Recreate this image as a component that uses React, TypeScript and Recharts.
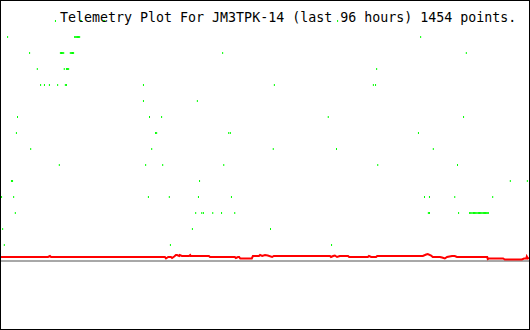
import React from "react";
import { ComposedChart, XAxis, YAxis, Line, Scatter, ReferenceLine } from "recharts";

// Title
const titleText = "Telemetry Plot For JM3TPK-14 (last 96 hours) 1454 points.";

// Red analog channel: hours ago axis (0..96) and raw value (0..255)
const redHours = [
  0, 8.55, 8.9, 9.1, 29.8, 30.0, 30.4, 30.9, 31.1, 31.5, 31.8, 32.0, 32.4, 32.5, 32.9,
  34.2, 34.4, 34.5, 37.8, 38.0, 42.5, 42.7, 43.1, 43.3, 43.5, 45.6, 45.8, 46.9, 47.1,
  47.5, 48.0, 48.5, 49.3, 49.6, 59.8, 60.0, 60.4, 60.7, 61.1, 61.6, 63.1, 63.3, 66.7,
  66.9, 67.3, 68.2, 68.4, 76.7, 77.3, 77.6, 78.2, 78.5, 79.8, 80.2, 80.7, 81.1, 82.0,
  82.5, 82.9, 88.4, 88.5, 88.7, 91.3, 91.6, 94.7, 95.1, 95.5, 95.6, 95.8, 96.0,
];
const redValues = [
  4, 4, 5, 4, 4, 2.5, 4, 4, 3, 4.5, 6, 6, 5, 6, 5,
  5, 6, 5, 5, 4, 4, 3, 4, 4, 2.5, 2.5, 5, 5, 6,
  5, 6, 5.5, 4, 5, 5, 4, 5, 5.5, 4, 5, 5, 4, 4,
  5, 4, 4, 5, 5, 6.5, 7, 5.5, 4, 4, 3.5, 2.5, 4, 5,
  5, 4, 4, 2, 2.5, 2.5, 1.5, 1.5, 2.5, 2.5, 4.5, 2.5, 3,
];

// Green channel samples grouped by level (hours, value)
const greenHours = [
  // 240
  9.9, 14.5, 14.6, 18.6, 18.8, 61.2,
  // 224
  1.2, 13.4, 13.5, 13.7, 13.9, 14.1, 14.3, 76.3,
  // 208
  5.2, 10.8, 11.0, 11.2, 11.4, 12.6, 12.8, 13.0, 13.2, 40.3, 84.6,
  // 192
  6.6, 11.5, 11.9, 12.1, 12.3, 68.3,
  // 176
  7.2, 7.9, 8.8, 10.3, 11.7, 11.9, 25.9, 49.7, 67.7, 68.1,
  // 160
  25.9, 35.7,
  // 144
  3.0, 27.0, 29.2, 59.5, 84.1,
  // 128
  2.8, 28.1, 28.3, 41.4, 41.7, 75.9,
  // 112
  5.4, 27.4, 49.5, 61.0, 78.6,
  // 96
  10.6, 26.3, 29.4, 40.5, 68.5, 83.0,
  // 80
  1.9, 2.1, 36.1, 92.6, 95.7,
  // 64
  0.1, 2.3, 26.8, 30.6, 35.9, 41.9, 77.0, 77.9, 82.5, 89.4,
  // 48
  2.6, 35.4, 36.5, 36.8, 38.5, 40.1, 42.5, 77.7, 77.9, 83.2,
  85.2, 85.4, 85.6, 85.8, 85.9, 86.1, 86.3, 86.5, 86.7, 86.8,
  87.0, 87.2, 87.4, 87.6, 87.7, 87.9, 88.1, 88.3, 88.5, 88.6,
  // 32
  0.3, 34.8, 49.0,
  // 16
  0.6, 30.8, 60.1,
];
const greenValues = [
  240, 240, 240, 240, 240, 240,
  224, 224, 224, 224, 224, 224, 224, 224,
  208, 208, 208, 208, 208, 208, 208, 208, 208, 208, 208,
  192, 192, 192, 192, 192, 192,
  176, 176, 176, 176, 176, 176, 176, 176, 176, 176,
  160, 160,
  144, 144, 144, 144, 144,
  128, 128, 128, 128, 128, 128,
  112, 112, 112, 112, 112,
  96, 96, 96, 96, 96, 96,
  80, 80, 80, 80, 80,
  64, 64, 64, 64, 64, 64, 64, 64, 64, 64,
  48, 48, 48, 48, 48, 48, 48, 48, 48, 48,
  48, 48, 48, 48, 48, 48, 48, 48, 48, 48,
  48, 48, 48, 48, 48, 48, 48, 48, 48, 48,
  32, 32, 32,
  16, 16, 16,
];

const redData = redHours.map((h, i) => ({ h, v: redValues[i] }));
const greenData = greenHours.map((h, i) => ({ h, v: greenValues[i] }));

const GreenDot = (props: any) => {
  const { cx, cy } = props;
  if (cx == null || cy == null) return null;
  return <rect x={cx - 0.5} y={cy - 1} width={1} height={2} fill="#00ff00" />;
};

export default function App() {
  return (
    <div style={{ position: "absolute", left: 0, top: 0, width: 530, height: 330, background: "#ffffff" }}>
      <ComposedChart
        width={530}
        height={330}
        margin={{ top: 5, right: 1, bottom: 5, left: 1 }}
      >
        <XAxis type="number" dataKey="h" domain={[0, 96]} hide allowDataOverflow />
        <YAxis type="number" dataKey="v" domain={[-64, 256]} hide width={0} allowDataOverflow />
        <ReferenceLine y={0} stroke="#a8a8a8" strokeWidth={2} ifOverflow="extendDomain" />
        <Scatter
          data={greenData}
          dataKey="v"
          shape={<GreenDot />}
          isAnimationActive={false}
        />
        <Line
          data={redData}
          dataKey="v"
          type="linear"
          stroke="#ff0000"
          strokeWidth={2}
          dot={false}
          activeDot={false}
          isAnimationActive={false}
        />
      </ComposedChart>
      <svg
        width={530}
        height={330}
        style={{ position: "absolute", left: 0, top: 0, pointerEvents: "none" }}
      >
        <text
          x={60}
          y={22}
          fontFamily="'DejaVu Sans Mono', monospace"
          fontSize={13.3}
          fill="#000000"
        >
          {titleText}
        </text>
        <rect x={0.5} y={0.5} width={529} height={329} fill="none" stroke="#000000" strokeWidth={1} />
      </svg>
    </div>
  );
}
